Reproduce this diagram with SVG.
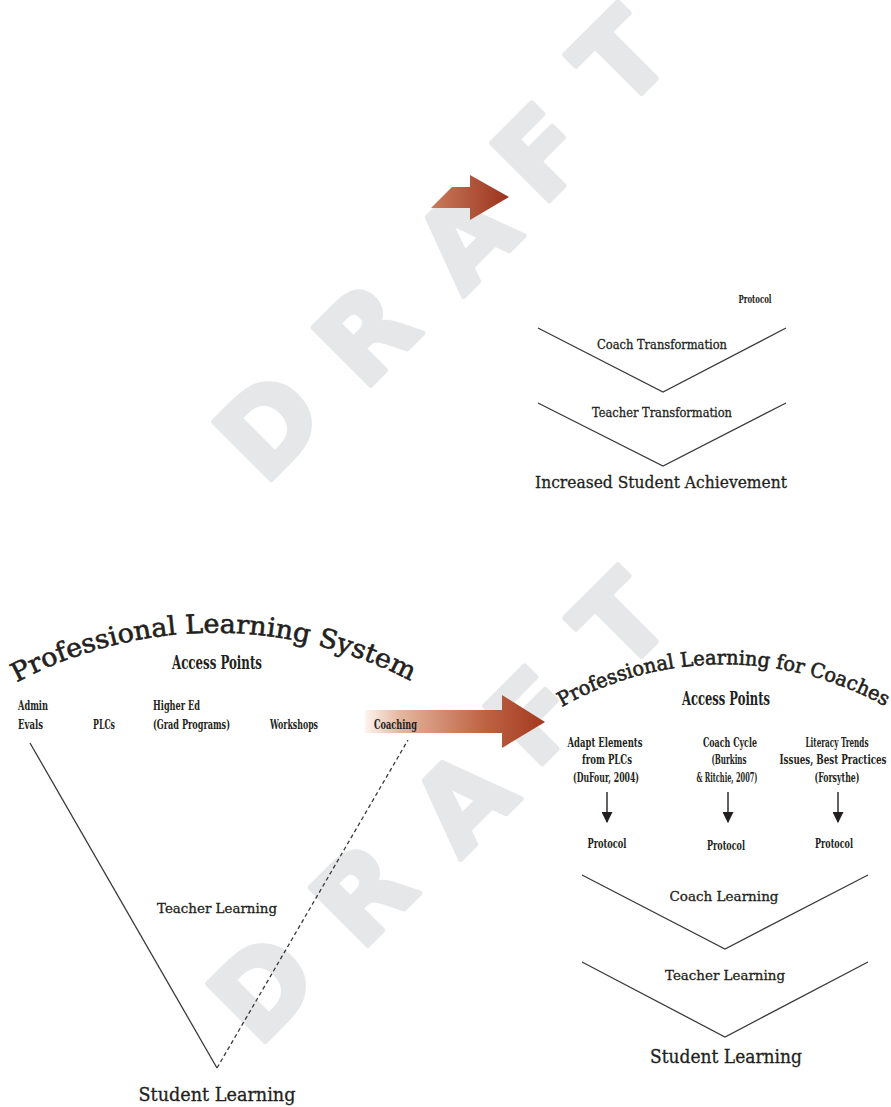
<svg xmlns="http://www.w3.org/2000/svg" xmlns:xlink="http://www.w3.org/1999/xlink" width="891" height="1107" viewBox="0 0 891 1107">
  <style>
    .wm { font-family: "DejaVu Sans", "Liberation Sans", sans-serif; font-weight: bold; font-size: 112px; fill: #e6e7e8; stroke: #e6e7e8; stroke-width: 5; stroke-linejoin: round; text-anchor: middle; }
    .slab { font-family: "DejaVu Serif", "Liberation Serif", serif; fill: #231f20; stroke: #231f20; stroke-width: 0.3; }
    .arc { stroke-width: 0.6; }
    .cond { font-family: "DejaVu Serif Condensed", "DejaVu Serif", serif; font-weight: bold; fill: #231f20; }
    .mid { text-anchor: middle; }
    .line { fill: none; stroke: #3a3a3a; stroke-width: 1.3; }
    .dash { fill: none; stroke: #3a3a3a; stroke-width: 1.3; stroke-dasharray: 4 3; }
    .down { fill: none; stroke: #231f20; stroke-width: 1.4; marker-end: url(#head); }
  </style>
  <defs>
    <marker id="head" viewBox="0 0 10 10" refX="9" refY="5" markerUnits="userSpaceOnUse" markerWidth="11" markerHeight="11" orient="auto">
      <path d="M0 0 L10 5 L0 10 Z" fill="#231f20"/>
    </marker>
    <linearGradient id="gSmall" gradientUnits="userSpaceOnUse" x1="431" y1="0" x2="509" y2="0">
      <stop offset="0" stop-color="#c97b5c"/>
      <stop offset="1" stop-color="#9a321c"/>
    </linearGradient>
    <linearGradient id="gBig" gradientUnits="userSpaceOnUse" x1="365" y1="0" x2="545" y2="0">
      <stop offset="0" stop-color="#fdf4ef"/>
      <stop offset="0.2" stop-color="#e4b59d"/>
      <stop offset="0.65" stop-color="#bf6546"/>
      <stop offset="1" stop-color="#a3391e"/>
    </linearGradient>
    <path id="arcLeft" d="M 14 684 A 420 420 0 0 1 416 684"/>
    <path id="arcRight" d="M 560 708 A 330 330 0 0 1 888 708"/>
  </defs>

  <rect width="891" height="1107" fill="#ffffff"/>

  <!-- watermark lettering -->
  <g id="watermark-top">
    <text class="wm" transform="translate(268 425) rotate(-45)" y="41">D</text>
    <text class="wm" transform="translate(365 333) rotate(-45)" y="41">R</text>
    <text class="wm" transform="translate(465 237) rotate(-45)" y="41">A</text>
    <text class="wm" transform="translate(540 152) rotate(-45)" y="41">F</text>
    <text class="wm" transform="translate(620 57) rotate(-45)" y="41">T</text>
  </g>
  <g id="watermark-bottom">
    <text class="wm" transform="translate(262 987) rotate(-45)" y="41">D</text>
    <text class="wm" transform="translate(362 893) rotate(-45)" y="41">R</text>
    <text class="wm" transform="translate(462 800) rotate(-45)" y="41">A</text>
    <text class="wm" transform="translate(533 715) rotate(-45)" y="41">F</text>
    <text class="wm" transform="translate(620 620) rotate(-45)" y="41">T</text>
  </g>

  <!-- connectors -->
  <g id="connectors">
    <path id="arrow-small" d="M 431 208 L 452 187 L 470 187 L 470 175 L 509 197 L 470 220 L 470 208 Z" fill="url(#gSmall)"/>
    <path id="arrow-big" d="M 365 710 L 502 710 L 502 695 L 545 722 L 502 748 L 502 733 L 365 733 Z" fill="url(#gBig)"/>
    <polyline class="line" points="538,328 663,392 786,328"/>
    <polyline class="line" points="538,403 663,466 786,403"/>
    <line class="line" x1="30" y1="743" x2="217" y2="1068"/>
    <line class="dash" x1="217" y1="1068" x2="408" y2="740"/>
    <polyline class="line" points="582,875 725,949 868,875"/>
    <polyline class="line" points="582,962 725,1037 868,962"/>
    <line class="down" x1="607" y1="792" x2="607" y2="822"/>
    <line class="down" x1="728" y1="792" x2="728" y2="822"/>
    <line class="down" x1="838" y1="792" x2="838" y2="822"/>
  </g>

  <!-- upper chart -->
  <g id="protocol-top">
    <text class="cond mid" x="755" y="303" font-size="11" textLength="33" lengthAdjust="spacingAndGlyphs">Protocol</text>
  </g>
  <g id="coach-transformation">
    <text class="slab mid" x="662" y="349" font-size="12" textLength="130" lengthAdjust="spacingAndGlyphs">Coach Transformation</text>
  </g>
  <g id="teacher-transformation">
    <text class="slab mid" x="662" y="417" font-size="12" textLength="140" lengthAdjust="spacingAndGlyphs">Teacher Transformation</text>
  </g>
  <g id="increased-achievement">
    <text class="slab mid" x="661" y="488" font-size="16" textLength="252" lengthAdjust="spacingAndGlyphs">Increased Student Achievement</text>
  </g>

  <!-- professional learning system -->
  <g id="pls-title">
    <text class="slab arc" font-size="26"><textPath xlink:href="#arcLeft" startOffset="3" textLength="410" lengthAdjust="spacingAndGlyphs">Professional Learning System</textPath></text>
  </g>
  <g id="pls-access">
    <text class="cond mid" x="217" y="669" font-size="19" textLength="90" lengthAdjust="spacingAndGlyphs">Access Points</text>
  </g>
  <g id="admin-evals">
    <text class="cond" x="18" y="710" font-size="13" textLength="30" lengthAdjust="spacingAndGlyphs">Admin</text>
    <text class="cond" x="18" y="729" font-size="13" textLength="25" lengthAdjust="spacingAndGlyphs">Evals</text>
  </g>
  <g id="plcs">
    <text class="cond" x="93" y="729" font-size="13" textLength="22" lengthAdjust="spacingAndGlyphs">PLCs</text>
  </g>
  <g id="higher-ed">
    <text class="cond" x="153" y="710" font-size="13" textLength="47" lengthAdjust="spacingAndGlyphs">Higher Ed</text>
    <text class="cond" x="153" y="729" font-size="13" textLength="77" lengthAdjust="spacingAndGlyphs">(Grad Programs)</text>
  </g>
  <g id="workshops">
    <text class="cond" x="270" y="729" font-size="13" textLength="48" lengthAdjust="spacingAndGlyphs">Workshops</text>
  </g>
  <g id="coaching">
    <text class="cond" x="374" y="729" font-size="13" textLength="43" lengthAdjust="spacingAndGlyphs">Coaching</text>
  </g>
  <g id="teacher-learning-left">
    <text class="slab mid" x="217" y="913" font-size="13" textLength="120" lengthAdjust="spacingAndGlyphs">Teacher Learning</text>
  </g>
  <g id="student-learning-left">
    <text class="slab mid" x="217" y="1101" font-size="18" textLength="157" lengthAdjust="spacingAndGlyphs">Student Learning</text>
  </g>

  <!-- professional learning for coaches -->
  <g id="plc-title">
    <text class="slab arc" font-size="20"><textPath xlink:href="#arcRight" startOffset="2" textLength="338" lengthAdjust="spacingAndGlyphs">Professional Learning for Coaches</textPath></text>
  </g>
  <g id="plc-access">
    <text class="cond mid" x="726" y="705" font-size="19" textLength="88" lengthAdjust="spacingAndGlyphs">Access Points</text>
  </g>
  <g id="adapt-elements">
    <text class="cond mid" x="605" y="747" font-size="13" textLength="75" lengthAdjust="spacingAndGlyphs">Adapt Elements</text>
    <text class="cond mid" x="607" y="764" font-size="13" textLength="50" lengthAdjust="spacingAndGlyphs">from PLCs</text>
    <text class="cond mid" x="606" y="782" font-size="13" textLength="66" lengthAdjust="spacingAndGlyphs">(DuFour, 2004)</text>
  </g>
  <g id="coach-cycle">
    <text class="cond mid" x="730" y="747" font-size="13" textLength="54" lengthAdjust="spacingAndGlyphs">Coach Cycle</text>
    <text class="cond mid" x="729" y="764" font-size="13" textLength="35" lengthAdjust="spacingAndGlyphs">(Burkins</text>
    <text class="cond mid" x="727" y="782" font-size="13" textLength="61" lengthAdjust="spacingAndGlyphs">&amp; Ritchie, 2007)</text>
  </g>
  <g id="literacy-trends">
    <text class="cond mid" x="837" y="747" font-size="13" textLength="63" lengthAdjust="spacingAndGlyphs">Literacy Trends</text>
    <text class="cond mid" x="833" y="764" font-size="13" textLength="107" lengthAdjust="spacingAndGlyphs">Issues, Best Practices</text>
    <text class="cond mid" x="837" y="782" font-size="13" textLength="45" lengthAdjust="spacingAndGlyphs">(Forsythe)</text>
  </g>
  <g id="protocol-1">
    <text class="cond mid" x="607" y="848" font-size="13" textLength="39" lengthAdjust="spacingAndGlyphs">Protocol</text>
  </g>
  <g id="protocol-2">
    <text class="cond mid" x="726" y="850" font-size="13" textLength="38" lengthAdjust="spacingAndGlyphs">Protocol</text>
  </g>
  <g id="protocol-3">
    <text class="cond mid" x="834" y="848" font-size="13" textLength="38" lengthAdjust="spacingAndGlyphs">Protocol</text>
  </g>
  <g id="coach-learning">
    <text class="slab mid" x="724" y="901" font-size="13" textLength="109" lengthAdjust="spacingAndGlyphs">Coach Learning</text>
  </g>
  <g id="teacher-learning-right">
    <text class="slab mid" x="725" y="980" font-size="13" textLength="120" lengthAdjust="spacingAndGlyphs">Teacher Learning</text>
  </g>
  <g id="student-learning-right">
    <text class="slab mid" x="726" y="1063" font-size="18" textLength="152" lengthAdjust="spacingAndGlyphs">Student Learning</text>
  </g>
</svg>
